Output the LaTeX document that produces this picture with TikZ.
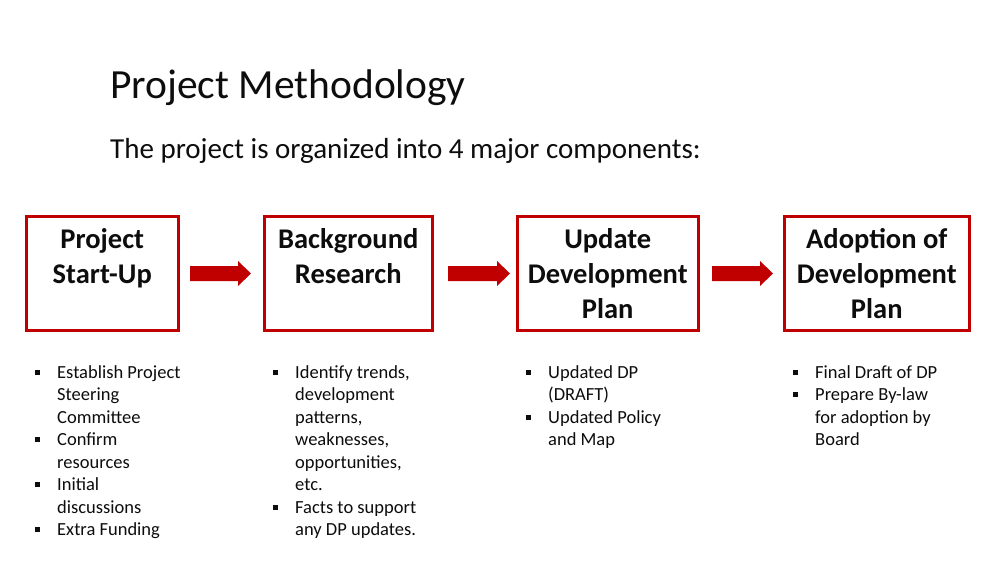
\documentclass[tikz,border=0pt]{standalone}
\usepackage{fontspec}
\setmainfont{Carlito}
\definecolor{dred}{HTML}{C00000}
\definecolor{txt}{HTML}{0D0D0D}
\begin{document}
\begin{tikzpicture}[x=1pt,y=-1pt,
  boxs/.style={draw=dred,line width=2.5pt,minimum width=#1,minimum height=114pt,anchor=north west,inner sep=0pt},
  btxt/.style={font=\fontsize{28.5}{35}\selectfont\bfseries,anchor=base,text=txt,inner sep=0pt},
  barrow/.style={fill=dred,draw=none},
  bl/.style={font=\fontsize{18.5}{22}\selectfont,anchor=base west,inner sep=0pt,text=txt},
  sq/.style={fill=txt,minimum size=5pt,inner sep=0pt}]
\useasboundingbox[fill=white] (0,0) rectangle (1000,562);
\node[anchor=base west,inner sep=0pt,font=\fontsize{41.5}{46}\selectfont,text=txt] (title) at (110,98) {Project Methodology};
\node[anchor=base west,inner sep=0pt,font=\fontsize{29}{34}\selectfont,text=txt] (sub) at (110,158) {The project is organized into 4 major components:};
\node[boxs=152pt] (b1) at (25,215) {};
\node[boxs=168pt] (b2) at (263,215) {};
\node[boxs=181pt] (b3) at (516,215) {};
\node[boxs=185pt] (b4) at (783,215) {};
\foreach \b/\l/\t in {b1/1/Project,b1/2/Start-Up,b2/1/Background,b2/2/Research,b3/1/Update,b3/2/Development,b3/3/Plan,b4/1/Adoption of,b4/2/Development,b4/3/Plan}{
  \node[btxt] (\b t\l) at ([yshift=-(35*\l-2)]\b.north) {\t};}
\foreach \n/\xa/\xb in {a1/190/251,a2/448/510,a3/712/773}{
  \fill[barrow] (\xa,266) -- (\xb-13,266) -- (\xb-13,261) -- (\xb,273.5) -- (\xb-13,286) -- (\xb-13,281) -- (\xa,281) -- cycle;
  \coordinate (\n) at (\xa,273.5);}
% column 1
\foreach \y/\t [count=\i] in {378/Establish Project,400.5/Steering,423/Committee,445.5/Confirm,468/resources,490.5/Initial,513/discussions,535.5/Extra Funding}{
  \node[bl] (c1l\i) at (57,\y) {\t};}
\foreach \y [count=\i] in {372,439.5,484.5,529.5}{\node[sq] (c1s\i) at (37,\y) {};}
% column 2
\foreach \y/\t [count=\i] in {378/{Identify trends,},400.5/development,423/{patterns,},445.5/{weaknesses,},468/{opportunities,},490.5/etc.,513/Facts to support,535.5/any DP updates.}{
  \node[bl] (c2l\i) at (295,\y) {\t};}
\foreach \y [count=\i] in {372,507}{\node[sq] (c2s\i) at (275,\y) {};}
% column 3
\foreach \y/\t [count=\i] in {378/Updated DP,400.5/(DRAFT),423/Updated Policy,445.5/and Map}{
  \node[bl] (c3l\i) at (548,\y) {\t};}
\foreach \y [count=\i] in {372,417}{\node[sq] (c3s\i) at (528,\y) {};}
% column 4
\foreach \y/\t [count=\i] in {378/Final Draft of DP,400.5/Prepare By-law,423/for adoption by,445.5/Board}{
  \node[bl] (c4l\i) at (815,\y) {\t};}
\foreach \y [count=\i] in {372,394.5}{\node[sq] (c4s\i) at (795,\y) {};}
\end{tikzpicture}
\end{document}
